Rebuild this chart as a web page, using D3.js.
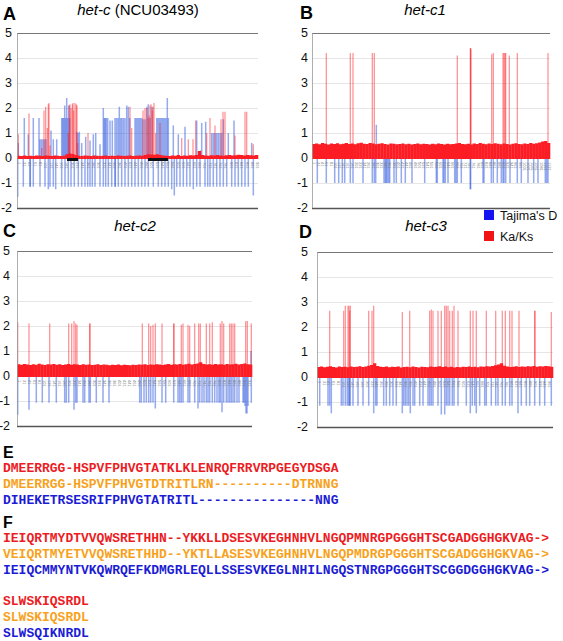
<!DOCTYPE html>
<html><head><meta charset="utf-8">
<script src="https://cdn.jsdelivr.net/npm/d3@7"></script>
<style>body{margin:0;background:#fff}svg{display:block}</style>
</head><body>
<svg id="c" width="563" height="641"></svg>
<script>
// ---------------- DATA ----------------
const yTicks = [5,4,3,2,1,0,-1,-2];
const legendLabels = ["Tajima's D","Ka/Ks"];
const panelLetters = ["A","B","C","D"];
const panelTitles = [["het-c"," (NCU03493)"],["het-c1",""],["het-c2",""],["het-c3",""]];
const panelLengths = [241,238,235,236];

// background Ka/Ks band (sliding-window values)
const aBase = [0.09,0.08,0.1,0.08,0.09,0.08,0.1,0.09,0.08,0.1,0.09,0.08,0.1,0.09,0.08,0.09,0.15,0.18,0.16,0.12,0.09,0.08,0.1,0.09,0.08,0.1,0.09,0.08,0.09,0.1,0.08,0.09,0.08,0.1,0.09,0.08,0.09,0.1,0.08,0.09,0.1,0.09,0.12,0.15,0.14,0.13,0.15,0.12,0.1,0.09,0.08,0.1,0.09,0.12,0.08,0.1,0.09,0.11,0.1,0.12,0.28,0.12,0.1,0.09,0.11,0.1,0.12,0.1,0.09,0.11,0.12,0.1,0.11,0.13,0.12,0.1,0.12,0.11,0.1,0.12];
const bBase = [0.56,0.58,0.55,0.6,0.57,0.54,0.58,0.56,0.59,0.55,0.57,0.6,0.56,0.58,0.55,0.59,0.61,0.57,0.56,0.6,0.58,0.55,0.57,0.59,0.56,0.54,0.58,0.57,0.55,0.56,0.58,0.55,0.57,0.54,0.56,0.58,0.55,0.57,0.56,0.54,0.57,0.55,0.58,0.56,0.54,0.57,0.55,0.56,0.58,0.6,0.56,0.55,0.57,0.54,0.58,0.56,0.6,0.57,0.55,0.58,0.56,0.59,0.57,0.55,0.58,0.56,0.54,0.57,0.59,0.56,0.55,0.58,0.56,0.6,0.57,0.59,0.62,0.66,0.68,0.6];
const cBase = [0.47,0.45,0.48,0.46,0.44,0.47,0.45,0.49,0.46,0.44,0.47,0.46,0.48,0.45,0.47,0.44,0.46,0.48,0.45,0.47,0.46,0.44,0.47,0.45,0.46,0.44,0.45,0.47,0.44,0.46,0.45,0.43,0.45,0.44,0.46,0.43,0.45,0.44,0.43,0.45,0.44,0.46,0.45,0.47,0.44,0.46,0.45,0.47,0.46,0.44,0.46,0.48,0.45,0.47,0.46,0.48,0.45,0.47,0.49,0.46,0.48,0.5,0.55,0.48,0.46,0.47,0.45,0.48,0.46,0.47,0.45,0.48,0.46,0.47,0.49,0.46,0.48,0.5,0.47,0.46];
const dBase = [0.4,0.42,0.39,0.41,0.43,0.4,0.38,0.42,0.4,0.41,0.39,0.42,0.4,0.41,0.43,0.4,0.42,0.45,0.48,0.55,0.44,0.41,0.4,0.42,0.39,0.41,0.4,0.42,0.38,0.4,0.41,0.39,0.42,0.4,0.38,0.41,0.4,0.39,0.42,0.4,0.41,0.43,0.4,0.42,0.39,0.41,0.38,0.4,0.39,0.41,0.4,0.42,0.4,0.41,0.39,0.42,0.41,0.43,0.42,0.44,0.47,0.5,0.55,0.45,0.42,0.4,0.41,0.43,0.4,0.42,0.41,0.43,0.42,0.44,0.41,0.43,0.42,0.44,0.43,0.41];

// Ka/Ks peaks [position, value]
const aKaKs = [[1.3,0.95],[12,1.78],[24.7,0.4],[27,1.9],[28.7,2.05],[30.3,1.2],[31.3,2.15],[32,2.2],[33,0.5],[51.3,1.0],[52.3,2.1],[53,2.15],[54,2.0],[55.3,2.15],[56,2.2],[56.7,1.9],[58,2.2],[59.3,2.15],[60,2.1],[60.7,0.6],[71,1.0],[113,2.05],[114.7,1.2],[126,1.9],[128,2.0],[129.7,2.0],[131,1.6],[132,1.7],[133,2.1],[134,2.15],[135.3,1.9],[136,2.05],[137,2.2],[138.7,1.0],[143,1.4],[164.7,0.8],[171.3,0.75],[176,0.75],[178.7,1.5],[183.7,0.3],[189.7,1.0],[193,1.6],[198,1.3],[204,1.55],[206,1.85],[208,1.85],[218,0.9],[228,1.85],[229.7,1.85],[236.3,0.55]];
const bKaKs = [[14.3,4.2],[38.3,4.2],[41,4.2],[60.3,4.2],[62.3,4.2],[145.3,4.1],[158.3,4.4],[158.6,4.4],[158.9,4.35],[179.7,4.15],[181.3,4.2],[191,4.2],[192,4.2],[193,4.2],[193.7,4.2],[197.3,4.1],[205.3,4.2],[236,4.2]];
const cKaKs = [[0.7,2.15],[12,2.1],[32.7,2.1],[51.7,2.1],[54.7,2.1],[57,2.2],[58.7,2.1],[60,2.05],[72.7,2.1],[73,2.1],[125.3,2.1],[131.7,2.1],[133.7,2.0],[136,2.05],[138.3,2.1],[145,2.1],[156.7,2.1],[157,2.1],[164.3,2.05],[166,2.1],[171,2.05],[172.7,2.0],[177.7,2.1],[181.7,2.1],[183.3,2.1],[189.3,2.1],[192.7,2.1],[195.3,2.15],[203.3,2.1],[205,2.2],[206.7,2.1],[212.7,2.1],[214.3,2.1],[216,2.1],[217.7,2.1],[228.7,2.2],[230.3,2.2],[234.3,2.1]];
const dKaKs = [[12.7,2.65],[26.7,2.65],[28.3,2.85],[31,2.85],[32,2.85],[32.7,2.65],[33.3,2.85],[51.7,2.65],[55,2.65],[56.7,2.85],[85.3,2.6],[92.7,2.65],[112.7,2.65],[114.3,2.7],[116,2.65],[121,2.65],[124.3,2.65],[127.7,2.85],[129.3,2.85],[131,2.85],[132.7,2.65],[135.3,2.65],[137,2.85],[141,2.65],[153.3,2.65],[156,2.65],[159.3,2.65],[169.3,2.65],[178.7,2.65],[185.3,2.65],[188.3,2.65],[192.7,2.65],[195,2.65],[202,2.65],[217.7,2.65],[218,2.65],[234.3,2.6]];

// Tajima's D [position, value]
const aTajima = [[1.3,0.6],[7.3,1.6],[11.3,0.95],[16.3,1.6],[22,1.6],[23,0.75],[24.5,0.75],[26,0.75],[27.5,0.75],[29,0.75],[34,1.1],[36.3,0.75],[39.7,0.75],[44.7,1.6],[45.7,1.6],[46.7,1.6],[47.7,2.1],[48.7,1.6],[49.7,2.4],[50.7,1.6],[51.7,2.1],[52.7,1.6],[59.7,1.05],[61,1.0],[62.3,1.05],[64.7,0.6],[68.7,0.85],[73,0.7],[76.3,0.95],[78.7,1.0],[83,0.55],[86.3,2.0],[87.3,1.6],[88.3,1.6],[89.3,1.6],[90.7,1.6],[93,1.5],[95.3,1.5],[98,1.6],[99.5,1.6],[101,1.6],[102.3,2.05],[103.7,1.6],[105,1.6],[106.5,1.6],[108,1.6],[109.7,2.1],[111.3,2.05],[112.7,1.6],[118,1.6],[119.3,1.6],[120.7,1.6],[122,1.6],[123.3,1.6],[124.7,1.6],[126,1.55],[128,1.55],[130,2.05],[131.3,2.15],[133,1.6],[135,2.05],[139.7,1.6],[141,1.6],[142.3,1.6],[143.7,1.6],[145,1.6],[146.3,1.6],[147.7,1.6],[149,1.6],[150.3,2.4],[151.3,1.6],[156.3,1.3],[161.3,0.95],[168,1.25],[179.7,1.5],[184.7,1.4],[188.7,1.45],[194.7,1.0],[196.3,1.0],[198,1.0],[199.7,1.0],[201.3,1.0],[203,1.0],[204.7,1.0],[206.3,1.55],[211.3,1.0],[217,1.5],[234.7,0.6],
 [0.7,-1.55],[6.3,-1.15],[13,-1.15],[13.3,-1.15],[16.3,-1.15],[23,-1.15],[28,-1.15],[31.3,-1.25],[33,-1.15],[36.3,-1.15],[38.7,-1.25],[44.7,-1.15],[48,-1.15],[51.3,-1.15],[54,-1.15],[57.3,-1.15],[61.3,-1.15],[64.7,-1.15],[68,-1.15],[70.7,-1.15],[73,-1.15],[75.3,-1.15],[78,-1.15],[83,-1.15],[86.3,-1.15],[88.7,-1.15],[91.3,-1.15],[94.7,-1.15],[98,-1.15],[98.3,-1.15],[101.3,-1.15],[104.7,-1.15],[108,-1.15],[111.3,-1.15],[114.7,-1.15],[118,-1.15],[121.3,-1.15],[124.7,-1.15],[128,-1.15],[131.3,-1.15],[136.3,-1.15],[141.3,-1.15],[144.7,-1.15],[148,-1.15],[151.3,-1.15],[154.7,-1.25],[157.3,-1.5],[159.7,-1.15],[163,-1.15],[166.3,-1.15],[169.7,-1.15],[173,-1.15],[176.3,-1.25],[179.7,-1.15],[183,-1.15],[188,-1.15],[190.7,-1.15],[193,-1.15],[196.3,-1.15],[199.7,-1.15],[203,-1.15],[206.3,-1.15],[209.7,-1.15],[214.7,-1.15],[218,-1.15],[221.3,-1.15],[224.7,-1.15],[228,-1.15],[231.3,-1.15],[236.3,-1.5]];
const bTajima = [[64.3,1.33],[5.3,-1.0],[14.3,-1.0],[22.7,-1.0],[26.7,-1.0],[30.3,-1.0],[32.7,-1.0],[38.3,-1.0],[41,-1.0],[51,-1.0],[60.3,-1.0],[62.3,-1.0],[63.7,-1.0],[72,-1.0],[73.3,-1.0],[74.3,-1.0],[75.3,-1.0],[76.7,-1.0],[77.7,-1.0],[82,-1.0],[84.3,-1.0],[89.3,-1.0],[93.3,-1.0],[100,-1.0],[112.7,-1.0],[124.3,-1.0],[125.3,-1.0],[131,-1.0],[132,-1.0],[133.3,-1.0],[136,-1.0],[142.7,-1.0],[144,-1.0],[145.3,-1.0],[149.3,-1.0],[158.3,-1.25],[158.6,-1.25],[171,-1.0],[172,-1.0],[179.3,-1.0],[181.3,-1.0],[185.3,-1.0],[189.3,-1.0],[191,-1.0],[192,-1.0],[193.7,-1.0],[198,-1.0],[205.3,-1.0],[209.3,-1.0],[216,-1.0],[221.7,-1.0],[226,-1.0],[233.3,-1.0],[234.7,-1.0],[236,-1.0]];
const cTajima = [[234,1.0],[0.7,-1.55],[12,-1.35],[19.3,-1.07],[25.3,-1.07],[32,-1.07],[39.3,-1.07],[47.7,-1.07],[49.3,-1.07],[51.7,-1.07],[57,-1.35],[58.7,-1.07],[60,-1.07],[66,-1.07],[67.7,-1.07],[72,-1.07],[73.3,-1.07],[79.3,-1.07],[86,-1.07],[92,-1.07],[122.7,-1.07],[124.3,-1.07],[127,-1.07],[129.3,-1.07],[131.7,-1.07],[133.7,-1.07],[136,-1.07],[138.3,-1.3],[145,-1.07],[148.7,-1.07],[156.7,-1.07],[161,-1.07],[162.7,-1.07],[164.3,-1.07],[166,-1.07],[171,-1.07],[172.7,-1.07],[177.7,-1.07],[181,-1.3],[182.7,-1.07],[185,-1.07],[187,-1.07],[189.3,-1.07],[191,-1.07],[192.7,-1.07],[195.3,-1.07],[197.7,-1.07],[200,-1.07],[202,-1.07],[203.3,-1.07],[205,-1.45],[206.7,-1.07],[209.3,-1.07],[211,-1.07],[212.7,-1.07],[214.3,-1.07],[216,-1.07],[217.7,-1.07],[220,-1.07],[222,-1.07],[226,-1.07],[227,-1.07],[228,-1.2],[229,-1.5],[230,-1.5],[231,-1.2],[234.3,-1.07]];
const dTajima = [[2.7,-1.15],[11,-1.15],[12.7,-1.15],[14.3,-1.45],[24.3,-1.15],[26,-1.15],[28.3,-1.15],[30.3,-1.15],[32,-1.15],[32.3,-1.15],[33.3,-1.15],[36,-1.15],[41,-1.15],[46,-1.15],[51.7,-1.15],[56.7,-1.45],[58.7,-1.15],[60,-1.15],[66.7,-1.15],[69.3,-1.15],[72.7,-1.15],[76,-1.15],[79.3,-1.15],[85.3,-1.45],[86.7,-1.15],[88.3,-1.15],[90,-1.15],[91.7,-1.15],[93.3,-1.45],[96,-1.15],[97.7,-1.15],[102.7,-1.15],[106,-1.15],[111,-1.15],[112.7,-1.15],[114.3,-1.15],[116,-1.15],[121,-1.15],[124.3,-1.5],[127.7,-1.5],[129.3,-1.15],[131,-1.15],[132.7,-1.15],[135.3,-1.15],[137,-1.15],[141,-1.15],[149.3,-1.15],[153.3,-1.45],[155.3,-1.15],[157.7,-1.15],[159.3,-1.45],[162.7,-1.15],[167.7,-1.15],[169.3,-1.15],[174.3,-1.15],[178.7,-1.15],[181,-1.15],[185.3,-1.15],[188.3,-1.15],[192.7,-1.15],[195,-1.15],[201,-1.45],[204.3,-1.15],[209.3,-1.15],[212.7,-1.15],[217.7,-1.15],[222.7,-1.15],[227.7,-1.15],[234.3,-1.15]];

// black segments (domain boundaries) in panel A [start, end]
const aDomains = [[50,61],[131,151]];
// position tick spacing per panel
const tickSteps = [5.3,4.2,5.0,4.8];

// sequence alignments
const seqE = ["DMEERRGG-HSPVFPHVGTATKLKLENRQFRRVRPGEGYDSGA","DMEERRGG-HSPVFPHVGTDTRITLRN----------DTRNNG","DIHEKETRSESRIFPHVGTATRITL---------------NNG"];
const seqF = ["IEIQRTMYDTVVQWSRETHHN--YKKLLDSESVKEGHNHVLNGQPMNRGPGGGHTSCGADGGHGKVAG->","VEIQRTMYETVVQWSRETHHD--YKTLLASESVKEGHNHVLNGQPMDRGPGGGHTSCGADGGHGKVAG->","IEIQCMMYNTVKQWRQEFKDMGRLEQLLSSESVKEGLNHILNGQSTNRGPGGGHTSCGGDGGHGKVAG->"];
const seqF2 = ["SLWSKIQSRDL","SLWSKIQSRDL","SLWSQIKNRDL"];

// ---------------- DRAW ----------------
const seqColors = ["#ec1c24","#f7a21c","#1c1cd4"];
const RED = "#fc1c24", BLUE = "#2c56e0";
const layouts = [
  {x0:17,x1:258,top:33,bot:208,lab:12,lx:3,ly:20,tx:138,ty:15},
  {x0:312,x1:550,top:33,bot:208,lab:308,lx:300,ly:19,tx:425,ty:15},
  {x0:17,x1:252,top:251,bot:426,lab:10,lx:3,ly:237,tx:135,ty:231},
  {x0:317,x1:553,top:252,bot:427,lab:308,lx:299,ly:238,tx:426,ty:231}
];
const bases = [aBase,bBase,cBase,dBase];
const kaks = [aKaKs,bKaKs,cKaKs,dKaKs];
const tajs = [aTajima,bTajima,cTajima,dTajima];

const svg = d3.select("#c");
const font = "'Liberation Sans', Arial, sans-serif";

layouts.forEach((L,pi)=>{
  const g = svg.append("g");
  const x = d3.scaleLinear().domain([0,panelLengths[pi]]).range([L.x0,L.x1]);
  const y = d3.scaleLinear().domain([-2,5]).range([L.bot,L.top]);
  // grid
  g.selectAll(".grid").data(yTicks.filter(v=>v>-2&&v<5&&v!==0)).join("line")
    .attr("x1",L.x0).attr("x2",L.x1).attr("y1",d=>y(d)+0.5).attr("y2",d=>y(d)+0.5)
    .attr("stroke","#e6e6e6").attr("stroke-width",1);
  // Tajima's D bars
  g.selectAll(".taj").data(tajs[pi]).join("rect")
    .attr("x",d=>x(d[0])-0.75).attr("width",1.5)
    .attr("y",d=>Math.min(y(d[1]),y(0))).attr("height",d=>Math.abs(y(d[1])-y(0)))
    .attr("fill",BLUE).attr("fill-opacity",0.5);
  // Ka/Ks peaks
  g.selectAll(".ka").data(kaks[pi]).join("rect")
    .attr("x",d=>x(d[0])-0.6).attr("width",1.2)
    .attr("y",d=>y(d[1])).attr("height",d=>y(0)-y(d[1]))
    .attr("fill",RED).attr("fill-opacity",0.5);
  // Ka/Ks background band
  const bx = d3.scaleBand().domain(d3.range(bases[pi].length)).range([L.x0,L.x1]).padding(0);
  g.selectAll(".band").data(bases[pi]).join("rect")
    .attr("x",(d,i)=>bx(i)).attr("width",bx.bandwidth()+0.3)
    .attr("y",d=>y(d)).attr("height",d=>y(0)-y(d)+1)
    .attr("fill",RED);
  // domain segments
  if(pi===0){
    g.selectAll(".dom").data(aDomains).join("rect")
      .attr("x",d=>x(d[0])).attr("width",d=>x(d[1])-x(d[0]))
      .attr("y",y(0)).attr("height",3).attr("fill","#111");
  }
  // position tick labels
  const tv = d3.range(1.5, panelLengths[pi]-0.5, tickSteps[pi]);
  const ax = g.append("g").attr("transform",`translate(0,${y(0)+3})`)
    .call(d3.axisBottom(x).tickValues(tv).tickSize(0).tickFormat((d,i)=>String(i*20+1)));
  ax.select(".domain").remove();
  ax.selectAll("text").attr("font-size",4).attr("fill","#777").attr("font-family",font)
    .attr("transform","rotate(90)").attr("dy","0.3em").attr("dx","0").attr("y",0).attr("x",1)
    .attr("text-anchor","start");
  // frame lines
  g.append("line").attr("x1",L.x0).attr("x2",L.x1).attr("y1",L.top+0.5).attr("y2",L.top+0.5).attr("stroke","#777").attr("stroke-width",1.2);
  g.append("line").attr("x1",L.x0).attr("x2",L.x1).attr("y1",L.bot+0.5).attr("y2",L.bot+0.5).attr("stroke","#555").attr("stroke-width",1.4);
  g.append("line").attr("x1",L.x0+0.5).attr("x2",L.x0+0.5).attr("y1",L.top).attr("y2",L.bot).attr("stroke","#999").attr("stroke-width",0.8);
  // y labels
  g.selectAll(".yl").data(yTicks).join("text")
    .attr("x",L.lab).attr("y",d=>y(d)).attr("dy","0.35em").attr("text-anchor","end")
    .attr("font-family",font).attr("font-size",12.5).attr("fill","#111").text(d=>d);
  // letter
  g.append("text").attr("x",L.lx).attr("y",L.ly).attr("font-family",font).attr("font-weight","bold")
    .attr("font-size",18).text(panelLetters[pi]);
  // title
  const t = g.append("text").attr("x",L.tx).attr("y",L.ty).attr("text-anchor","middle")
    .attr("font-family",font).attr("font-size",15);
  t.append("tspan").attr("font-style","italic").text(panelTitles[pi][0]);
  if(panelTitles[pi][1]) t.append("tspan").text(panelTitles[pi][1]);
});

// legend
const leg = svg.append("g");
const legColors = ["#1414f0","#f01414"];
leg.selectAll("rect").data(legendLabels).join("rect")
  .attr("x",484).attr("y",(d,i)=>210+i*21).attr("width",10).attr("height",10).attr("fill",(d,i)=>legColors[i]);
leg.selectAll("text").data(legendLabels).join("text")
  .attr("x",500).attr("y",(d,i)=>220+i*21).attr("font-family",font).attr("font-size",12.5).attr("fill","#111").text(d=>d);

// sequences
const mono = "'Liberation Mono','Courier New',monospace";
svg.append("text").attr("x",3).attr("y",458).attr("font-family",font).attr("font-weight","bold").attr("font-size",16).text("E");
svg.append("text").attr("x",3).attr("y",528).attr("font-family",font).attr("font-weight","bold").attr("font-size",16).text("F");
function seqBlock(arr, y0){
  svg.append("g").selectAll("text").data(arr).join("text")
    .attr("x",3).attr("y",(d,i)=>y0+i*16).attr("font-family",mono).attr("font-weight","bold")
    .attr("font-size",13).attr("fill",(d,i)=>seqColors[i]).attr("xml:space","preserve").text(d=>d);
}
seqBlock(seqE, 472);
seqBlock(seqF, 542);
seqBlock(seqF2, 605);
</script>
</body></html>
